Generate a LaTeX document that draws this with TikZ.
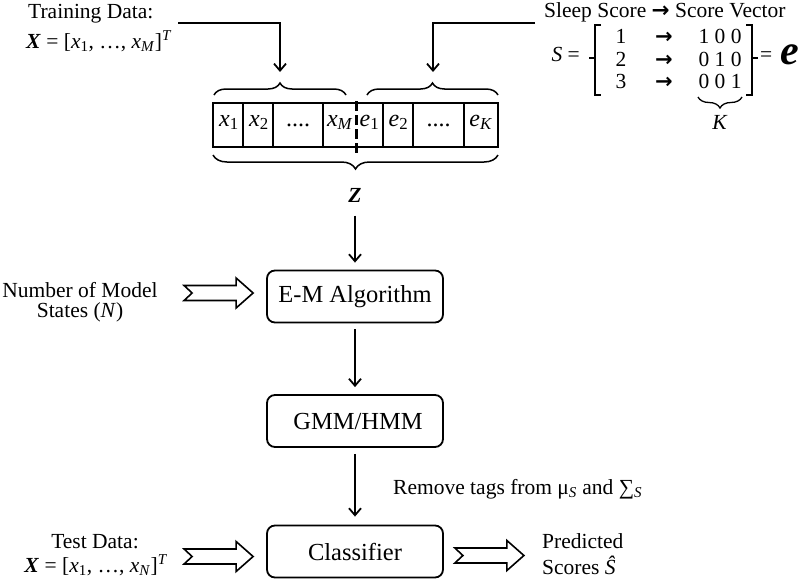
\documentclass[tikz,border=0pt]{standalone}
\usepackage{fontspec}
\setmainfont{Liberation Serif}
\newfontfamily\arrowfont{DejaVu Sans}
\usetikzlibrary{arrows.meta,decorations.pathreplacing,calc}
\begin{document}
\begin{tikzpicture}[x=1pt,y=-1pt,
  lab/.style={font=\fontsize{21.5}{24}\selectfont, inner sep=0pt},
  arr/.style={font=\arrowfont\bfseries\fontsize{21}{24}\selectfont, inner sep=0pt, anchor=base},
  cell/.style={font=\fontsize{24}{26}\selectfont, inner sep=0pt, anchor=base},
  conn/.style={line width=1.8pt, -{Straight Barb[length=7pt,width=12pt]}},
  procbox/.style={draw, line width=1.8pt, rounded corners=8pt, minimum width=176pt,
    minimum height=52pt, font=\fontsize{24.5}{27}\selectfont},
  bracedeco/.style={decorate, decoration={brace, amplitude=#1}, line width=1.5pt},
  bracket/.style={line width=1.3pt},
  fatarrow/.pic={\draw[line width=1.6pt, line join=miter, miter limit=10]
    (0,-7.5) -- (52,-7.5) -- (52,-15) -- (69,0) -- (52,15) -- (52,7.5) -- (0,7.5) -- (8,0) -- cycle;}
]
\useasboundingbox (0,0) rectangle (800,579);

% Training data
\node[lab, anchor=base west] (td1) at (28,18) {Training Data:};
\node[lab, anchor=base west] (td2) at (26,48) {\textbf{\textit{X}} = [\textit{x}\textsubscript{1}, …, \textit{x}\textsubscript{\textit{M}}]\textsuperscript{\textit{T}}};
\coordinate (tdout) at (178,23);
\coordinate (bltip) at (280,72);
\draw[conn] (tdout) -| (bltip);

% Sleep score
\node[lab, anchor=base west] (ss) at (544,17) {Sleep Score {\arrowfont\bfseries →} Score Vector};
\coordinate (ssout) at (535,23);
\coordinate (brtip) at (433,72);
\draw[conn] (ssout) -| (brtip);

\node[lab, anchor=base east] (seq) at (580,61) {\textit{S} =};
\node[lab, anchor=base] (r1) at (621,43) {1};
\node[lab, anchor=base] (r2) at (621,66) {2};
\node[lab, anchor=base] (r3) at (621,88) {3};
\node[arr] (a1) at (664,43) {→};
\node[arr] (a2) at (664,66) {→};
\node[arr] (a3) at (664,88) {→};
\node[lab, anchor=base] (v1) at (720,43) {1 0 0};
\node[lab, anchor=base] (v2) at (720,66) {0 1 0};
\node[lab, anchor=base] (v3) at (720,88) {0 0 1};
\draw[bracket] (601,25) -- (595,25) -- (595,95) -- (601,95);
\draw[bracket] (595,58) -- (589,58);
\draw[bracket] (746,25) -- (752,25) -- (752,95) -- (746,95);
\draw[bracket] (752,58) -- (758,58);
\node[lab, anchor=base west] (eq2) at (760,61) {=};
\node[font=\fontsize{42}{42}\selectfont\bfseries\itshape, anchor=base west, inner sep=0pt] (evec) at (780,64) {e};
\draw[bracedeco=11pt, line width=1.3pt] (742,97) -- (698,97);
\node[lab, anchor=base] (K) at (720,129) {\textit{K}};

% Vector
\draw[bracedeco=12pt] (214,95) -- (346,95);
\draw[bracedeco=12pt] (367,95) -- (498,95);
\node[draw, line width=1.8pt, minimum width=285pt, minimum height=44pt, inner sep=0pt] (vec) at (355.5,125) {};
\foreach \xx in {243,273,323,383,413,464} \draw[line width=1.8pt] (\xx,103) -- (\xx,147);
\draw[line width=3pt, dash pattern=on 10pt off 4pt] (356,101) -- (356,155);
\node[cell] (c1) at (229,126) {\textit{x}\textsubscript{1}};
\node[cell] (c2) at (259,126) {\textit{x}\textsubscript{2}};
\node[cell] (c3) at (298,126) {....};
\node[cell] (c4) at (340,126) {\textit{x}\textsubscript{\textit{M}}};
\node[cell] (c5) at (369.5,126) {\textit{e}\textsubscript{1}};
\node[cell] (c6) at (398.5,126) {\textit{e}\textsubscript{2}};
\node[cell] (c7) at (438.5,126) {....};
\node[cell] (c8) at (481,126) {\textit{e}\textsubscript{\textit{K}}};
\draw[bracedeco=14pt] (498,155) -- (213,155);

\node[font=\fontsize{21.5}{24}\selectfont\bfseries\itshape] (Z) at (355,195) {Z};

% Process boxes
\node[procbox] (em) at (355,296.5) {E-M Algorithm};
\node[procbox] (gmm) at (355,421) {\hspace{6pt}GMM/HMM};
\node[procbox] (cls) at (355,551.5) {Classifier};

\draw[conn, shorten <=10pt, shorten >=7pt] (Z) -- (em);
\draw[conn, shorten <=6pt, shorten >=7pt] (em) -- (gmm);
\draw[conn, shorten <=6pt, shorten >=8pt] (gmm) -- (cls);

% Side labels
\node[lab, anchor=base] (nm1) at (80,297) {Number of Model};
\node[lab, anchor=base] (nm2) at (80,317) {States (\textit{N})};
\pic at ($(em.west)+(-82,-3.5)$) {fatarrow};

\node[lab, anchor=base west] (rm) at (393,494) {Remove tags from μ\textsubscript{\textit{S}} and ∑\textsubscript{\textit{S}}};

\node[lab, anchor=base] (te1) at (95,548) {Test Data:};
\node[lab, anchor=base] (te2) at (96,572) {\textbf{\textit{X}} = [\textit{x}\textsubscript{1}, …, \textit{x}\textsubscript{\textit{N}}]\textsuperscript{\textit{T}}};
\pic at ($(cls.west)+(-82,5)$) {fatarrow};
\pic at ($(cls.east)+(11,4)$) {fatarrow};

\node[lab, anchor=base west] (pr1) at (542,548) {Predicted};
\node[lab, anchor=base west] (pr2) at (542,574) {Scores \textit{Ŝ}};
\end{tikzpicture}
\end{document}
